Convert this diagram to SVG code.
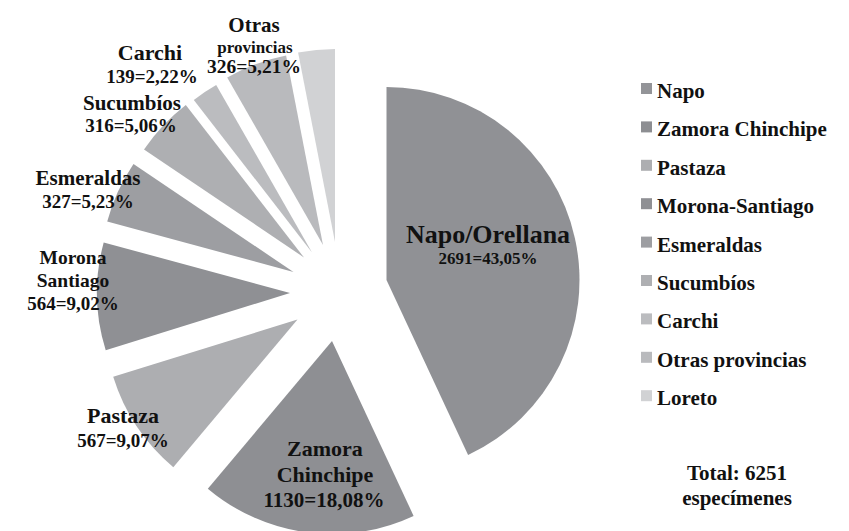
<svg xmlns="http://www.w3.org/2000/svg" width="849" height="531" viewBox="0 0 849 531">
<style>
text{font-family:'Liberation Serif','DejaVu Serif',serif;font-weight:bold;fill:#111;}
.c{text-anchor:middle;}
.lg{font-size:21px;}
</style>
<rect width="849" height="531" fill="#fff"/>
<g id="slices">
<g id="napo"><path d="M386.5,280 L386.5,87 A193,193 0 0 1 468.1,454.9 Z" fill="#909195"/></g>
<g id="zamora"><path d="M332,341 L413.6,515.9 A193,193 0 0 1 207.8,488.7 Z" fill="#8e8f93"/></g>
<g id="pastaza"><path d="M297.5,319.5 L173.3,467.2 A193,193 0 0 1 113.2,376.8 Z" fill="#adaeb1"/></g>
<g id="morona"><path d="M290,293 L105.7,350.3 A193,193 0 0 1 103.7,242.4 Z" fill="#8f9094"/></g>
<g id="esmeraldas"><path d="M293.5,272 L107.2,221.4 A193,193 0 0 1 133.5,164 Z" fill="#9d9ea2"/></g>
<g id="sucumbios"><path d="M304,257.5 L144,149.5 A193,193 0 0 1 185.8,104.9 Z" fill="#aeafb2"/></g>
<g id="carchi"><path d="M312,252.5 L193.8,99.9 A193,193 0 0 1 216.2,85 Z" fill="#bbbcbf"/></g>
<g id="otras"><path d="M323,245 L227.2,77.5 A193,193 0 0 1 286.1,55.5 Z" fill="#b9babd"/></g>
<g id="loreto"><path d="M335,242 L298.1,52.5 A193,193 0 0 1 335,49 Z" fill="#d1d2d4"/></g>
</g>
<g id="labels" font-family="Liberation Serif, DejaVu Serif, serif">
<text class="c" x="488" y="243" font-size="26">Napo/Orellana</text>
<text class="c" x="488" y="264" font-size="17">2691=43,05%</text>
<text class="c" x="325" y="456" font-size="22">Zamora</text>
<text class="c" x="325" y="482" font-size="22">Chinchipe</text>
<text class="c" x="324" y="507" font-size="21">1130=18,08%</text>
<text class="c" x="123" y="423" font-size="22">Pastaza</text>
<text class="c" x="123" y="447" font-size="19">567=9,07%</text>
<text class="c" x="73" y="264" font-size="19.5">Morona</text>
<text class="c" x="73" y="287" font-size="19.5">Santiago</text>
<text class="c" x="73" y="310" font-size="19">564=9,02%</text>
<text class="c" x="88" y="185" font-size="21">Esmeraldas</text>
<text class="c" x="88" y="208" font-size="19">327=5,23%</text>
<text class="c" x="132" y="110" font-size="21">Sucumbíos</text>
<text class="c" x="131" y="132" font-size="19">316=5,06%</text>
<text class="c" x="150" y="60" font-size="22">Carchi</text>
<text class="c" x="152" y="83" font-size="19">139=2,22%</text>
<text class="c" x="254" y="32" font-size="21">Otras</text>
<text class="c" x="255" y="53" font-size="17">provincias</text>
<text class="c" x="254" y="73" font-size="19.5">326=5,21%</text>
</g>
<g id="legend">
<rect x="641" y="83" width="11" height="11" fill="#939498"/><text class="lg" x="657" y="98">Napo</text>
<rect x="641" y="121.4" width="11" height="11" fill="#8d8e92"/><text class="lg" x="657" y="136.4">Zamora Chinchipe</text>
<rect x="641" y="159.8" width="11" height="11" fill="#adaeb1"/><text class="lg" x="657" y="174.8">Pastaza</text>
<rect x="641" y="198.2" width="11" height="11" fill="#8f9094"/><text class="lg" x="657" y="213.2">Morona-Santiago</text>
<rect x="641" y="236.6" width="11" height="11" fill="#9d9ea2"/><text class="lg" x="657" y="251.6">Esmeraldas</text>
<rect x="641" y="275" width="11" height="11" fill="#aeafb2"/><text class="lg" x="657" y="290">Sucumbíos</text>
<rect x="641" y="313.4" width="11" height="11" fill="#bbbcbf"/><text class="lg" x="657" y="328.4">Carchi</text>
<rect x="641" y="351.8" width="11" height="11" fill="#b9babd"/><text class="lg" x="657" y="366.8">Otras provincias</text>
<rect x="641" y="390.2" width="11" height="11" fill="#d1d2d4"/><text class="lg" x="657" y="405.2">Loreto</text>
<text class="c lg" x="737" y="480">Total: 6251</text>
<text class="c lg" x="737" y="505">especímenes</text>
</g>
</svg>
